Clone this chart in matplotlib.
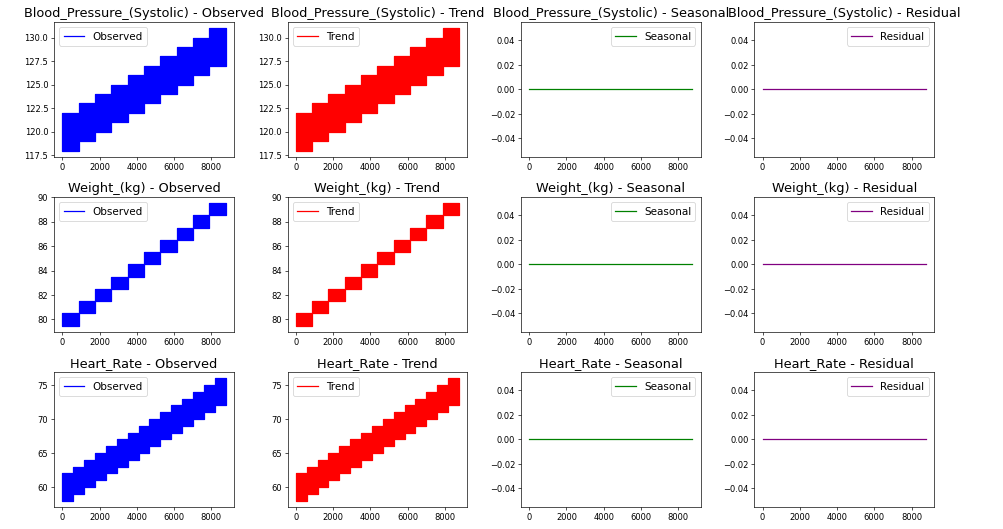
import numpy as np
import matplotlib
matplotlib.use("Agg")
import matplotlib.pyplot as plt
from matplotlib.lines import Line2D
from matplotlib.ticker import MultipleLocator

# hourly samples over one year
n_hours = 8760

# block level (centre of each plateau) and half height of the band
bp_levels = [120, 121, 122, 123, 124, 125, 126, 127, 128, 129]
bp_spread = 2.0
weight_levels = [80, 81, 82, 83, 84, 85, 86, 87, 88, 89]
weight_spread = 0.5
hr_levels = [60, 61, 62, 63, 64, 65, 66, 67, 68, 69, 70, 71, 72, 73, 74]
hr_spread = 2.0

seasonal_values = [0.0, 0.0]
residual_values = [0.0, 0.0]

columns = ["Blood_Pressure_(Systolic)", "Weight_(kg)", "Heart_Rate"]
series = {
    "Blood_Pressure_(Systolic)": (bp_levels, bp_spread, 2.5),
    "Weight_(kg)": (weight_levels, weight_spread, 2),
    "Heart_Rate": (hr_levels, hr_spread, 5),
}

title_size = 15.5
legend_size = 12.5

# big figure saved at low dpi, like a shrunken screenshot
fig, axes = plt.subplots(3, 4, figsize=(16.72, 8.82), dpi=60)
fig.subplots_adjust(left=0.054, right=0.931, top=0.958, bottom=0.042,
                    hspace=0.30, wspace=0.30)


def draw_blocks(ax, levels, spread, color, label):
    edges = np.linspace(0, n_hours - 1, len(levels) + 1)
    lo = np.array(levels + [levels[-1]], dtype=float) - spread
    hi = np.array(levels + [levels[-1]], dtype=float) + spread
    ax.fill_between(edges, lo, hi, step="post", color=color, lw=1.5)
    handle = Line2D([], [], color=color, label=label)
    ax.legend(handles=[handle], loc="upper left", fontsize=legend_size)


for row, col in enumerate(columns):
    levels, spread, ystep = series[col]
    ax = axes[row, 0]
    draw_blocks(ax, levels, spread, "blue", "Observed")
    ax.yaxis.set_major_locator(MultipleLocator(ystep))
    ax.set_title(f"{col} - Observed", fontsize=title_size)

    ax = axes[row, 1]
    draw_blocks(ax, levels, spread, "red", "Trend")
    ax.yaxis.set_major_locator(MultipleLocator(ystep))
    ax.set_title(f"{col} - Trend", fontsize=title_size)

    ax = axes[row, 2]
    ax.plot([0, n_hours - 1], seasonal_values, color="green", label="Seasonal")
    ax.legend(loc="upper right", fontsize=legend_size)
    ax.set_title(f"{col} - Seasonal", fontsize=title_size)

    ax = axes[row, 3]
    ax.plot([0, n_hours - 1], residual_values, color="purple", label="Residual")
    ax.legend(loc="upper right", fontsize=legend_size)
    ax.set_title(f"{col} - Residual", fontsize=title_size)

fig.savefig("out.png", dpi=60)
